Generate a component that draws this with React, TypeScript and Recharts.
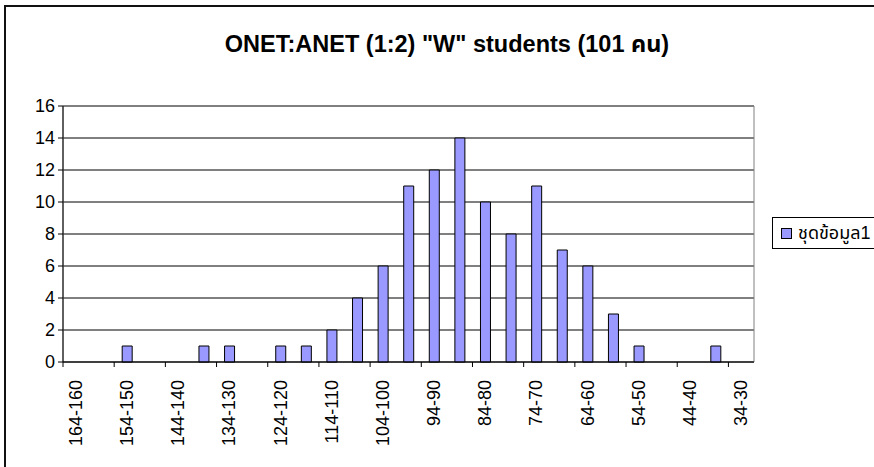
import React from "react";
import {
  BarChart,
  Bar,
  XAxis,
  YAxis,
  CartesianGrid,
  Legend,
  ReferenceArea,
} from "recharts";

const categories = [
  "164-160", "159-155", "154-150", "149-145", "144-140", "139-135", "134-130",
  "129-125", "124-120", "119-115", "114-110", "109-105", "104-100", "99-95",
  "94-90", "89-85", "84-80", "79-75", "74-70", "69-65", "64-60", "59-55",
  "54-50", "49-45", "44-40", "39-35", "34-30",
];
const counts = [
  0, 0, 1, 0, 0, 1, 1, 0, 1, 1, 2, 4, 6, 11, 12, 14, 10, 8, 11, 7, 6, 3, 1, 0, 0, 1, 0,
];
const yTicks = [0, 2, 4, 6, 8, 10, 12, 14, 16];
const seriesName = "ชุดข้อมูล1";
const title = 'ONET:ANET (1:2) "W" students (101 คน)';

const data = categories.map((c, i) => ({ range: c, value: counts[i] }));

const FONT = '"Liberation Sans", Arial, "Noto Sans Thai", "DejaVu Sans", sans-serif';

const XTick = (props: any) => {
  const { x, y, payload } = props;
  const off = payload && typeof payload.offset === "number" ? payload.offset : 12.8;
  return (
    <g>
      <line x1={x - off} x2={x - off} y1={y - 5} y2={y} stroke="#000" strokeWidth={1} />
      <text
        transform={`translate(${x},${y + 13}) rotate(-90)`}
        textAnchor="end"
        dominantBaseline="central"
        fontSize={18}
        fill="#000"
        fontFamily={FONT}
      >
        {payload.value}
      </text>
    </g>
  );
};

const LegendContent = (props: any) => {
  const p = props.payload && props.payload[0];
  return (
    <div
      style={{
        border: "1px solid #000",
        background: "#fff",
        height: 32,
        width: 130,
        display: "flex",
        alignItems: "center",
        paddingLeft: 8,
        boxSizing: "border-box",
        fontFamily: FONT,
        fontSize: 18,
        color: "#000",
        whiteSpace: "nowrap",
      }}
    >
      <span
        style={{
          display: "inline-block",
          width: 9,
          height: 9,
          border: "1px solid #000",
          background: p ? p.color : "#9999FF",
          marginRight: 6,
        }}
      />
      <span>{p ? p.value : seriesName}</span>
    </div>
  );
};

export default function App() {
  return (
    <div
      style={{
        position: "absolute",
        left: 0,
        top: 0,
        width: 874,
        height: 467,
        overflow: "hidden",
        background: "#fff",
        fontFamily: FONT,
      }}
    >
      <div
        style={{
          position: "absolute",
          left: 4,
          top: 5,
          width: 900,
          height: 500,
          border: "2px solid #111",
        }}
      />
      <div
        style={{
          position: "absolute",
          left: 0,
          top: 27,
          width: 894,
          textAlign: "center",
          fontSize: 23.5,
          fontWeight: "bold",
          fontFamily: FONT,
          color: "#000",
        }}
      >
        {title}
      </div>
      <div style={{ position: "absolute", left: 0, top: 0 }}>
        <BarChart
          width={874}
          height={467}
          data={data}
          margin={{ top: 106, right: 120, bottom: 0, left: 0 }}
        >
          <CartesianGrid vertical={false} stroke="#000" strokeWidth={1} />
          <ReferenceArea
            x1={categories[0]}
            x2={categories[categories.length - 1]}
            y1={0}
            y2={16}
            fill="none"
            stroke="#808080"
            strokeWidth={1}
            ifOverflow="visible"
          />
          <XAxis
            dataKey="range"
            interval={1}
            height={105}
            tickLine={false}
            tickSize={5}
            tickMargin={0}
            axisLine={{ stroke: "#000" }}
            tick={<XTick />}
          />
          <YAxis
            width={63}
            domain={[0, 16]}
            ticks={yTicks}
            interval={0}
            tickSize={5}
            tickMargin={3}
            axisLine={{ stroke: "#000" }}
            tickLine={{ stroke: "#000" }}
            tick={{ fontSize: 18, fill: "#000", fontFamily: FONT }}
          />
          <Bar
            dataKey="value"
            name={seriesName}
            fill="#9999FF"
            stroke="#000"
            strokeWidth={1}
            barSize={10}
            isAnimationActive={false}
          />
          <Legend
            layout="horizontal"
            align="center"
            verticalAlign="middle"
            wrapperStyle={{ left: 772, top: 217, width: "auto" }}
            content={<LegendContent />}
          />
        </BarChart>
      </div>
    </div>
  );
}
